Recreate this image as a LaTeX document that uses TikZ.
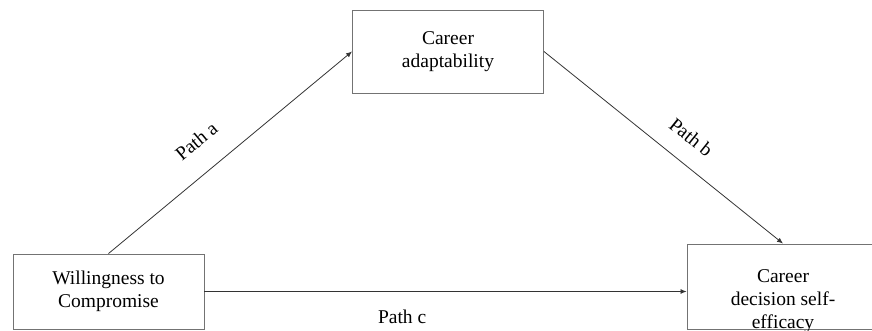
\documentclass[tikz,border=0pt]{standalone}
\usepackage{fontspec}
\setmainfont{Liberation Serif}
\usetikzlibrary{arrows.meta}
\begin{document}
\begin{tikzpicture}[x=1pt,y=1pt,font=\fontsize{19.5}{23}\selectfont,
  box/.style={draw=black!55,line width=0.9pt,minimum width=191pt,inner sep=0pt,align=center},
  path/.style={draw=black!80,line width=0.8pt,-{Latex[length=6pt,width=5pt]}},
  lbl/.style={sloped,inner sep=2pt}]
\useasboundingbox (0,0) rectangle (872,331);
\node[box,minimum height=75pt] (wtc) at (108.5,39.5) {Willingness to\\Compromise};
\node[box,minimum height=83pt] (ca) at (448,279.5) {Career\\adaptability};
\node[box,minimum width=192pt,minimum height=85pt] (cdse) at (783,44.5) {};
\node[align=center,inner sep=0pt] (cdsetxt) at (783,30) {Career\\decision self-\\efficacy};
\draw[path] (wtc.north) -- (ca.west) node[lbl,pos=0.44,above=21pt] (pa) {Path a};
\draw[path] (ca.east) -- (cdse.north) node[lbl,pos=0.55,above=16pt] (pb) {Path b};
\draw[path] (wtc.east) -- (wtc.east -| cdse.west) node[pos=0.41,below=15pt] (pc) {Path c};
\end{tikzpicture}
\end{document}
